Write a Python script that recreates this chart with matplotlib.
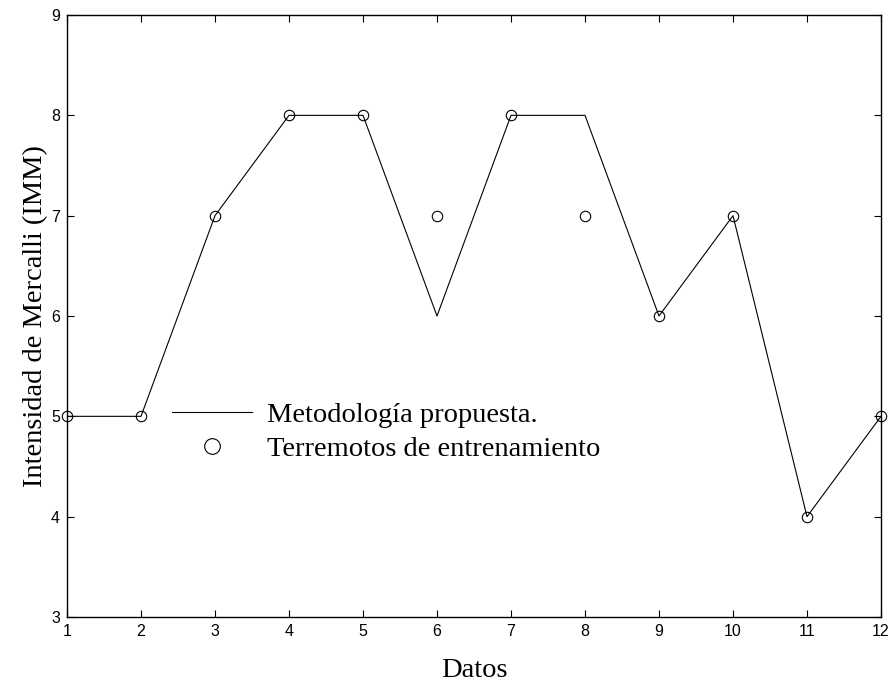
import matplotlib
matplotlib.use('Agg')
import matplotlib.pyplot as plt

datos = [1, 2, 3, 4, 5, 6, 7, 8, 9, 10, 11, 12]
metodologia = [5, 5, 7, 8, 8, 6, 8, 8, 6, 7, 4, 5]
terremotos = [5, 5, 7, 8, 8, 7, 8, 7, 6, 7, 4, 5]

fig = plt.figure(figsize=(8.95, 6.83), dpi=100)
ax = fig.add_axes([67 / 895, 66 / 683, 814 / 895, 602 / 683])

ax.plot(datos, metodologia, color='black', linewidth=0.8,
        label='Metodología propuesta.')
ax.plot(datos, terremotos, linestyle='none', marker='o', markersize=7.5,
        markerfacecolor='none', markeredgecolor='black', markeredgewidth=0.8,
        clip_on=False, label='Terremotos de entrenamiento')

ax.set_xlim(1, 12)
ax.set_ylim(3, 9)
ax.set_xticks(datos)
ax.set_yticks([3, 4, 5, 6, 7, 8, 9])
ax.tick_params(direction='in', length=5, width=0.8, top=True, right=True,
               labelsize=11.5, pad=5)
for lab in ax.get_xticklabels() + ax.get_yticklabels():
    lab.set_family('Liberation Sans')
for sp in ax.spines.values():
    sp.set_linewidth(1.0)

serif = {'family': 'Liberation Serif', 'size': 20.5}
ax.set_xlabel('Datos', fontdict=serif, labelpad=14)
ax.set_ylabel('Intensidad de Mercalli (IMM)', fontdict=serif, labelpad=2)

ax.legend(loc='center left', bbox_to_anchor=(172 / 895, 251 / 683),
          bbox_transform=fig.transFigure, frameon=False, borderpad=0,
          borderaxespad=0, handlelength=2.8, handletextpad=0.55,
          labelspacing=0.3, markerscale=1.5,
          prop={'family': 'Liberation Serif', 'size': 20.5})

fig.savefig('out.png', dpi=100)
